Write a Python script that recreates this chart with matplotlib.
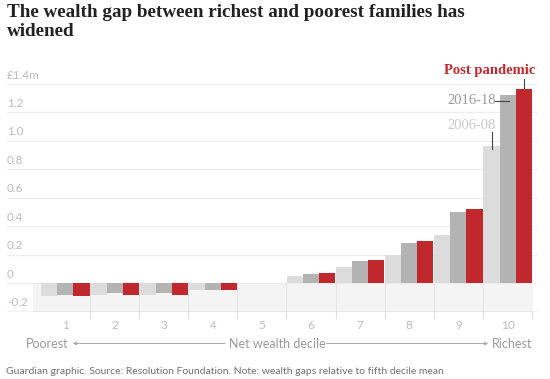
"""
Wealth gap by net wealth decile, three periods
"""
import numpy as np
import matplotlib
matplotlib.use('Agg')
import matplotlib.pyplot as plt
from matplotlib.transforms import blended_transform_factory

# Data (£m, relative to fifth decile mean)
deciles = ['1', '2', '3', '4', '5', '6', '7', '8', '9', '10']
wealth_2006 = [-0.087, -0.083, -0.080, -0.047, 0.0, 0.051, 0.112, 0.199, 0.342, 0.962]
wealth_2016 = [-0.082, -0.070, -0.068, -0.047, 0.0, 0.065, 0.157, 0.286, 0.499, 1.323]
wealth_post = [-0.087, -0.083, -0.080, -0.050, 0.003, 0.070, 0.164, 0.297, 0.520, 1.365]
y_ticks = [-0.2, 0, 0.2, 0.4, 0.6, 0.8, 1.0, 1.2, 1.4]
y_tick_labels = ['-0.2', '0', '0.2', '0.4', '0.6', '0.8', '1.0', '1.2', '£1.4m']

LIGHT = '#dcdcdc'
MID = '#b3b3b3'
RED = '#c0282d'
SANS = 'Lato'
SERIF = 'Liberation Serif'

fig = plt.figure(figsize=(5.5, 3.79), dpi=100)
ax = fig.add_axes([7 / 550, 1 - 311.8 / 379, 531 / 550, (311.8 - 84) / 379])

x = np.arange(len(deciles))
w = 0.327
ax.set_xlim(-1.19, 9.62)
ax.set_ylim(-0.2, 1.4)

# shaded negative band and category separators
ax.axhspan(-0.2, 0, xmin=(-0.66 + 1.19) / 10.81, xmax=(9.52 + 1.19) / 10.81,
           color='#f4f4f4', zorder=0, lw=0)
for b in x[:-1] + 0.5:
    ax.plot([b, b], [-0.2, 0], color='#e4e4e4', lw=0.8, zorder=1)

for v in y_ticks[1:]:
    ax.axhline(v, color='#ececec', lw=0.8, zorder=0)
ax.axhline(-0.2, color='#bdbdbd', lw=1.0, zorder=3)

ax.bar(x - w, wealth_2006, w, color=LIGHT, zorder=2)
ax.bar(x, wealth_2016, w, color=MID, zorder=2)
ax.bar(x + w, wealth_post, w, color=RED, zorder=2)

ax.axis('off')

# y tick labels sit above gridlines
trans = blended_transform_factory(ax.transAxes, ax.transData)
for v, lab in zip(y_ticks, y_tick_labels):
    ax.text(0, v + 0.063, lab, transform=trans, ha='left', va='center',
            fontsize=8.5, color='#bbbbbb', family=SANS)

# x tick labels and small ticks under axis
for i, lab in enumerate(deciles):
    ax.text(i, -0.2 - 0.095, lab, ha='center', va='center', fontsize=8.5,
            color='#bbbbbb', family=SANS, clip_on=False)
for b in x + 0.5:
    ax.plot([b, b], [-0.2, -0.244], color='#dddddd', lw=0.8, clip_on=False)

# axis description with arrows
fy = 1 - 343.5 / 379
fig.text(47 / 550, fy, 'Poorest', ha='center', va='center', fontsize=9,
         color='#999999', family=SANS)
fig.text(277 / 550, fy, 'Net wealth decile', ha='center', va='center',
         fontsize=9, color='#999999', family=SANS)
fig.text(532 / 550, fy, 'Richest', ha='right', va='center', fontsize=9,
         color='#999999', family=SANS)
arrow = dict(arrowstyle='-|>', color='#aaaaaa', lw=0.7, mutation_scale=5)
ax.annotate('', xy=(70 / 550, fy), xytext=(228 / 550, fy),
            xycoords='figure fraction', textcoords='figure fraction',
            arrowprops=arrow)
ax.annotate('', xy=(491 / 550, fy), xytext=(324 / 550, fy),
            xycoords='figure fraction', textcoords='figure fraction',
            arrowprops=arrow)

# series labels with pointer lines
ax.text(8.645, 1.492, 'Post pandemic', ha='center', va='center',
        fontsize=10.5, color=RED, family=SERIF, fontweight='semibold', clip_on=False)
ax.plot([9 + w, 9 + w], [1.372, 1.436], color='#444444', lw=0.8, clip_on=False)
ax.text(8.27, 1.283, '2016-18', ha='center', va='center', fontsize=10.5,
        color='#999999', family=SERIF)
ax.plot([8.75, 9.03], [1.283, 1.283], color='#444444', lw=0.8, zorder=4)
ax.text(8.27, 1.112, '2006-08', ha='center', va='center', fontsize=10.5,
        color='#c8c8c8', family=SERIF)
ax.plot([8.686, 8.686], [0.944, 1.063], color='#444444', lw=0.8, zorder=4)

# title and footer
fig.text(7 / 550, 1 - 4 / 379, 'The wealth gap between richest and poorest families has\nwidened',
         ha='left', va='top', fontsize=13.8, fontweight='bold', color='#222222',
         family=SERIF, linespacing=1.12)
fig.text(6 / 550, 1 - 372 / 379,
         'Guardian graphic. Source: Resolution Foundation. Note: wealth gaps relative to fifth decile mean',
         ha='left', va='center', fontsize=7.5, color='#707070', family=SANS)

fig.savefig('out.png', dpi=100)
